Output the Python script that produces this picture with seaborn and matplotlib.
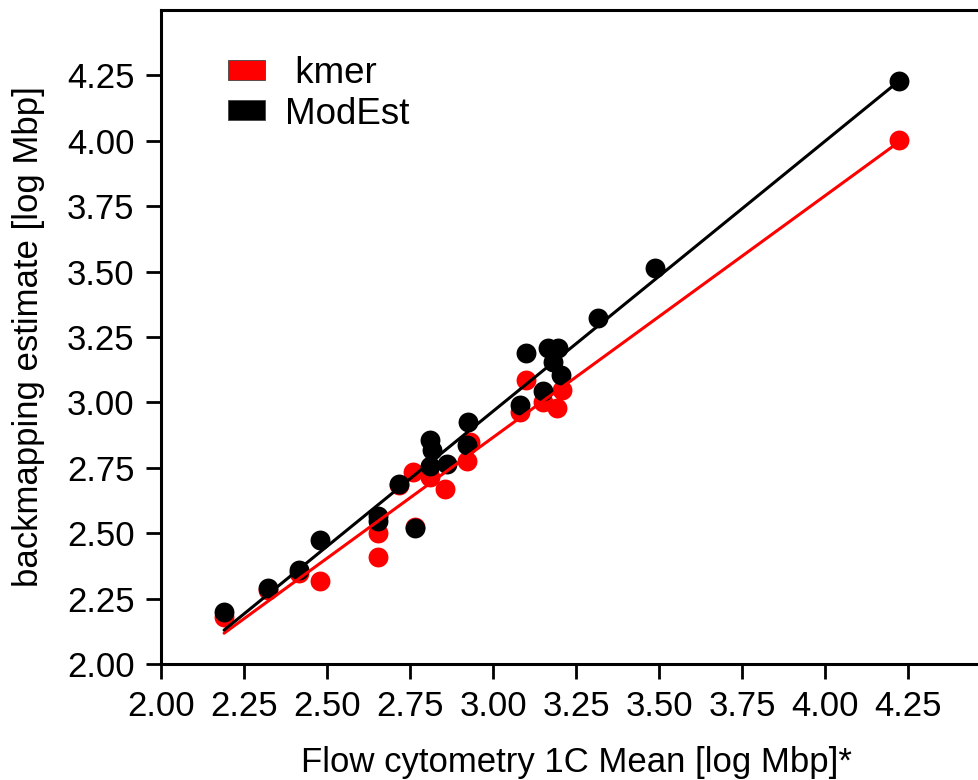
import matplotlib
matplotlib.use("Agg")
import matplotlib.pyplot as plt
import matplotlib.ticker as mticker
from matplotlib.patches import Patch
import pandas as pd
import seaborn as sns

# flow cytometry 1C mean vs backmapping estimates (log Mbp)
kmer_x = [2.190, 2.322, 2.416, 2.479, 2.654, 2.654, 2.717, 2.765, 2.759, 2.810,
          2.855, 2.922, 2.931, 3.081, 3.099, 3.151, 3.193, 3.208, 4.223]
kmer_y = [2.180, 2.283, 2.348, 2.318, 2.501, 2.409, 2.684, 2.524, 2.735, 2.716,
          2.670, 2.777, 2.850, 2.964, 3.087, 3.003, 2.980, 3.049, 4.002]
modest_x = [2.190, 2.322, 2.416, 2.479, 2.654, 2.654, 2.717, 2.765, 2.810, 2.816,
            2.810, 2.861, 2.925, 2.922, 3.081, 3.099, 3.151, 3.166, 3.181, 3.196,
            3.205, 3.316, 3.488, 4.223]
modest_y = [2.199, 2.291, 2.360, 2.475, 2.566, 2.547, 2.689, 2.520, 2.857, 2.819,
            2.758, 2.765, 2.926, 2.838, 2.991, 3.190, 3.045, 3.209, 3.156, 3.209,
            3.106, 3.324, 3.512, 4.227]
series_names = [" kmer", "ModEst"]
series_colors = ["#ff0000", "#000000"]
tick_vals = [2.00, 2.25, 2.50, 2.75, 3.00, 3.25, 3.50, 3.75, 4.00, 4.25]

df_kmer = pd.DataFrame({"flow": kmer_x, "est": kmer_y})
df_modest = pd.DataFrame({"flow": modest_x, "est": modest_y})

sns.set_theme(style="ticks")
plt.rcParams["font.family"] = ["Liberation Sans", "DejaVu Sans"]
plt.rcParams["text.color"] = "black"
plt.rcParams["axes.labelcolor"] = "black"

fig = plt.figure(figsize=(9.79, 7.8), dpi=100)
ax = fig.add_axes([161 / 979, 116 / 780, 830 / 979, 654 / 780])

for d, c in zip([df_kmer, df_modest], series_colors):
    sns.regplot(data=d, x="flow", y="est", ax=ax, ci=None, truncate=True, color=c,
                scatter_kws={"s": 205, "alpha": 1, "linewidths": 0, "zorder": 3},
                line_kws={"lw": 2.2, "zorder": 4})

ax.set_xlim(2.0, 4.5)
ax.set_ylim(2.0, 4.5)
ax.set_xticks(tick_vals)
ax.set_yticks(tick_vals)
ax.xaxis.set_major_formatter(mticker.FormatStrFormatter("%.2f"))
ax.yaxis.set_major_formatter(mticker.FormatStrFormatter("%.2f"))
ax.tick_params(length=11, width=2, colors="black", labelcolor="black", labelsize=25, pad=8)
for s in ax.spines.values():
    s.set_linewidth(2.2)
    s.set_color("black")
ax.set_xlabel("Flow cytometry 1C Mean [log Mbp]*", fontsize=25, labelpad=16)
ax.set_ylabel("backmapping estimate [log Mbp]", fontsize=25, labelpad=16)

handles = [Patch(facecolor=c, edgecolor="#444444", linewidth=0.6) for c in series_colors]
ax.legend(handles, series_names, loc="upper left", bbox_to_anchor=(67 / 830, 608 / 654),
          frameon=False, fontsize=26.5, borderaxespad=0, borderpad=0,
          handlelength=1.0, handleheight=0.46, handletextpad=0.55, labelspacing=0.15)

fig.savefig("out.png", dpi=100)
